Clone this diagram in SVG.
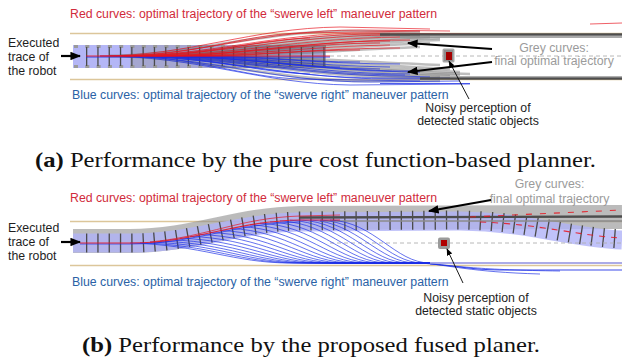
<svg xmlns="http://www.w3.org/2000/svg" width="622" height="364" viewBox="0 0 622 364">
  <style>
    .lbl { font-family: "Liberation Sans", Arial, sans-serif; font-size: 12.3px; }
    .red-t { fill: #d12b3b; }
    .blue-t { fill: #2a62a6; }
    .grey-t { fill: #9b9b9b; }
    .dark-t { fill: #1e1e1e; }
    .cap { font-family: "Liberation Serif", "Times New Roman", serif; font-size: 22px; fill: #111; }
    .road { stroke: #dcc69a; stroke-width: 1.6; fill: none; }
    .fan-grey { stroke: #6f6f6f; stroke-opacity: 0.45; stroke-width: 2.6; fill: none; }
    .fan-red { stroke: #e8141e; stroke-opacity: 0.85; stroke-width: 0.8; fill: none; }
    .fan-blue { stroke: #1a2ee6; stroke-opacity: 0.85; stroke-width: 0.8; fill: none; }
    .ticks { stroke: #4a4a4a; stroke-width: 19; stroke-dasharray: 1.3 10; fill: none; }
    .final { stroke: #4d4d4d; stroke-width: 2.4; fill: none; }
    .final-lt { stroke: #8c8c8c; stroke-width: 1.4; fill: none; }
    .center { stroke: #b0b0b0; stroke-width: 0.9; stroke-dasharray: 4 3; fill: none; }
    .arrow-thick { stroke: #000; stroke-width: 2.2; fill: none; marker-end: url(#head); }
    .arrow-thin { stroke: #000; stroke-width: 0.9; fill: none; marker-end: url(#head-s); }
  </style>
  <defs>
    <marker id="head" viewBox="0 0 10 8" refX="9" refY="4" markerUnits="userSpaceOnUse" markerWidth="11" markerHeight="8.5" orient="auto">
      <path d="M0 0 L10 4 L0 8 z" fill="#000"/>
    </marker>
    <marker id="head-s" viewBox="0 0 10 8" refX="9" refY="4" markerUnits="userSpaceOnUse" markerWidth="7" markerHeight="5.6" orient="auto">
      <path d="M0 0 L10 4 L0 8 z" fill="#000"/>
    </marker>
  </defs>

  <rect width="622" height="364" fill="#fff"/>

  <!-- ===================== Panel (a) ===================== -->
  <g id="panel-a">
    <path class="road" d="M70 33.5 H622 M70 79.5 H622"/>

    <!-- robot footprint band -->
    <rect x="73" y="45" width="253" height="23" fill="#b4b6f6"/>
    <rect x="130" y="45" width="196" height="23" fill="#8a8a8a" fill-opacity="0.35"/>
    <path d="M73 46.5 H326 M73 66.5 H326" stroke="#9a9a9a" stroke-width="3" stroke-dasharray="4 7.3" stroke-dashoffset="-1" fill="none"/>

    <!-- grey candidate trajectories -->
    <g class="fan-grey">
      <path d="M110 56 C190 55 260 31 350 31 L420 32"/>
      <path d="M120 56 C210 56 290 34 390 34"/>
      <path d="M130 56 C220 56 300 35 410 35"/>
      <path d="M140 56 C230 56 310 37 420 36"/>
      <path d="M150 56 C240 55 320 39 430 37"/>
      <path d="M160 56 C250 55 330 41 440 38"/>
      <path d="M170 56 C250 54 330 44 440 40"/>
      <path d="M180 56 C260 55 340 47 430 43"/>
      <path d="M190 56 C270 56 340 50 420 47"/>
      <path d="M110 56 C200 57 280 81 370 81 L440 81"/>
      <path d="M120 56 C220 56 310 78 420 78"/>
      <path d="M130 56 C230 56 320 77 440 77"/>
      <path d="M140 56 C240 56 330 75 450 76"/>
      <path d="M150 56 C250 57 340 73 460 75"/>
      <path d="M160 56 C260 57 350 71 470 74"/>
      <path d="M170 56 C260 58 350 68 460 72"/>
      <path d="M180 56 C270 57 360 65 450 69"/>
      <path d="M190 56 C280 56 360 62 440 65"/>
    </g>

    <path class="ticks" d="M86 56.5 H327"/>

    <!-- swerve-right candidates -->
    <g class="fan-blue">
      <path d="M86 57 H330" stroke-width="1.1"/>
      <path d="M100 56 C200 56 260 84 350 85 L470 84"/>
      <path d="M110 56 C210 56 270 82 370 82 L460 81"/>
      <path d="M120 56 C220 56 290 79 390 79 L440 79"/>
      <path d="M125 56 C220 57 280 78 380 78 L450 78"/>
      <path d="M130 56 C230 57 300 76 400 76 L430 77"/>
      <path d="M135 56 C230 56 300 75 405 75"/>
      <path d="M140 56 C240 56 310 74 410 74"/>
      <path d="M150 56 C250 56 320 72 420 72"/>
      <path d="M155 56 C245 56 315 71 410 71"/>
      <path d="M160 56 C240 56 300 69 380 69"/>
      <path d="M170 56 C250 56 310 66 390 67"/>
      <path d="M180 56 C260 56 320 64 400 64"/>
      <path d="M120 56 C200 57 240 77 300 79 L420 81"/>
      <path d="M140 56 C210 56 250 72 310 74"/>
      <path d="M200 56 C260 56 300 62 360 62"/>
      <path d="M190 57 C250 57 290 66 340 67"/>
    </g>

    <!-- swerve-left candidates -->
    <g class="fan-red">
      <path d="M86 56 H330" stroke-width="1.2"/>
      <path d="M100 56 C190 56 250 28 340 27 L430 29"/>
      <path d="M110 56 C200 56 260 30 360 30 L450 31"/>
      <path d="M120 56 C210 56 270 33 370 33 L470 34"/>
      <path d="M125 56 C215 56 275 34 380 34"/>
      <path d="M130 56 C220 55 290 36 390 35"/>
      <path d="M140 56 C230 56 300 38 400 37"/>
      <path d="M150 56 C240 56 310 40 410 40"/>
      <path d="M155 56 C240 56 300 41 390 41"/>
      <path d="M160 56 C240 56 300 43 380 43"/>
      <path d="M170 56 C250 56 310 46 390 45"/>
      <path d="M180 56 C260 56 320 48 400 48"/>
      <path d="M120 56 C200 55 240 35 300 33 L420 31"/>
      <path d="M140 56 C210 56 250 40 310 38"/>
      <path d="M200 56 C260 56 300 50 360 50"/>
      <path d="M590 24 L622 23"/>
    </g>

    <!-- final optimal trajectory -->
    <path class="final" d="M380 34.5 H622 M420 78.5 H622"/>
    <path class="final-lt" d="M400 37 H622"/>
    <path d="M440 76.5 H622" stroke="#b0b0b0" stroke-width="1" fill="none"/>
    <path d="M380 83.5 L470 83.5" stroke="#3a4ae8" stroke-width="0.9" fill="none"/>

    <path class="center" d="M330 56 H622"/>

    <g id="obstacle-a">
      <rect x="442.5" y="48.5" width="12" height="14" rx="1.5" fill="#a8a8a8"/>
      <rect x="444" y="50" width="9" height="11" fill="#8e8e8e"/>
      <rect x="446" y="52" width="6" height="8" fill="#a40000"/>
    </g>

    <g id="labels-a" class="lbl">
      <text class="red-t" x="70" y="18">Red curves: optimal trajectory of the “swerve left” maneuver pattern</text>
      <text class="blue-t" x="72" y="99">Blue curves: optimal trajectory of the “swerve right” maneuver pattern</text>
      <text class="grey-t" x="554" y="52" text-anchor="middle">Grey curves:</text>
      <text class="grey-t" x="554" y="65" text-anchor="middle">final optimal trajectory</text>
      <text class="dark-t" x="478" y="112" text-anchor="middle">Noisy perception of</text>
      <text class="dark-t" x="478" y="125" text-anchor="middle">detected static objects</text>
      <text class="dark-t" x="8" y="47">Executed</text>
      <text class="dark-t" x="8" y="61">trace of</text>
      <text class="dark-t" x="8" y="75">the robot</text>
    </g>

    <g id="connectors-a">
      <path class="arrow-thick" d="M61 56 H80"/>
      <path class="arrow-thick" d="M492 49 L408 43"/>
      <path class="arrow-thick" d="M492 62 L408 72"/>
      <path class="arrow-thin" d="M469 99 L449 61"/>
    </g>

    <text class="cap" x="35" y="167" textLength="561" lengthAdjust="spacingAndGlyphs"><tspan font-weight="bold">(a)</tspan> Performance by the pure cost function-based planner.</text>
  </g>

  <!-- ===================== Panel (b) ===================== -->
  <g id="panel-b">
    <path class="road" d="M70 221.5 H622 M70 265.5 H622"/>

    <!-- footprints: final (grey) and executed (blue) -->
    <path d="M73 241 L130 241 C195 241 235 219 300 218 L622 217" stroke="#8e8e8e" stroke-opacity="0.6" stroke-width="24" fill="none"/>
    <path d="M73 243 L130 243 C195 243 235 223 300 222 L460 221 C530 222 565 237 622 240" stroke="#b0b3f7" stroke-opacity="0.8" stroke-width="19" fill="none"/>

    <path class="ticks" d="M86 243 L130 243 C195 243 235 222 300 221 L460 220 C530 221 565 236 622 239"/>

    <!-- final optimal trajectory core -->
    <path class="final" d="M300 217.5 L622 216.5"/>
    <path class="final-lt" d="M320 221 L622 221" stroke="#666"/>

    <path class="center" d="M330 243 H622"/>

    <!-- swerve-right candidates -->
    <g class="fan-blue">
      <path d="M130 243 C202 245 234 263 290 263 L430 263"/>
      <path d="M140 242.8 C210.7 244.8 242 263 297 263 L430 263"/>
      <path d="M150 242.1 C219.3 244.1 250 263 304 263 L430 263"/>
      <path d="M160 241.1 C228 243.1 258 263 311 263 L430 263"/>
      <path d="M170 239.8 C236.6 241.8 266 263 318 263 L430 263"/>
      <path d="M180 238.2 C245.3 240.2 274 263 325 263 L430 263"/>
      <path d="M190 236.4 C254 238.4 282 263 332 263 L430 263"/>
      <path d="M200 234.5 C262.6 236.5 290 263 339 263 L430 263"/>
      <path d="M210 232.5 C271.2 234.5 298 263 346 263 L430 263"/>
      <path d="M220 230.5 C280 232.5 306 263 353 263 L430 263"/>
      <path d="M230 228.5 C288.5 230.5 314 263 360 263 L430 263"/>
      <path d="M240 226.6 C297 228.6 322 263 367 263 L430 263"/>
      <path d="M250 224.8 C305.8 226.8 330.6 263 374 263 L430 263"/>
      <path d="M260 223.2 C314.5 225.2 338.6 263 381 263 L430 263"/>
      <path d="M270 221.9 C323 223.9 346.7 263 388 263 L430 263"/>
      <path d="M280 220.9 C331.8 222.9 354.8 263 395 263 L430 263"/>
      <path d="M290 220.2 C340.4 222.2 362.8 263 402 263 L430 263"/>
      <path d="M300 220 C349 222 370.9 263 409 263 L430 263"/>
      <path d="M310 220 C357.7 222 379 263 416 263 L430 263"/>
      <path d="M320 220 C366.4 222 387 263 423 263 L430 263"/>
      <path d="M330 220 C375 222 395 263 430 263"/>
      <path d="M80 244 L130 244 C195 244 235 223 300 222"/>
      <path d="M430 264 C460 266 470 270 500 270 H622" stroke-width="1.1"/>
      <path d="M420 263 C450 265 470 272 540 274"/>
      <path d="M425 263 C455 266 480 270 560 271"/>
    </g>
    <path d="M430 263 H622" stroke="#8f8fe0" stroke-width="1.6" fill="none"/>

    <!-- swerve-left candidates -->
    <g class="fan-red">
      <path d="M80 243 L130 243 C195 243 235 221 300 220 L340 220" stroke-width="1.1"/>
      <path d="M150 242 C210 236 240 218 300 216 L340 215"/>
      <path d="M470 217 L622 210" stroke-dasharray="6 8" stroke-width="1.1"/>
      <path d="M480 222 C540 224 580 236 622 238" stroke-dasharray="6 6" stroke-width="1.1"/>
    </g>

    <g id="obstacle-b">
      <rect x="438" y="237.5" width="12" height="11.5" rx="2" fill="#9a9a9a"/>
      <rect x="441" y="240" width="6" height="6" fill="#b00000"/>
    </g>

    <g id="labels-b" class="lbl">
      <text class="red-t" x="70" y="202">Red curves: optimal trajectory of the “swerve left” maneuver pattern</text>
      <text class="blue-t" x="72" y="286">Blue curves: optimal trajectory of the “swerve right” maneuver pattern</text>
      <text class="grey-t" x="549.5" y="188" text-anchor="middle">Grey curves:</text>
      <text class="grey-t" x="549.5" y="203" text-anchor="middle">final optimal trajectory</text>
      <text class="dark-t" x="476" y="302" text-anchor="middle">Noisy perception of</text>
      <text class="dark-t" x="476" y="315" text-anchor="middle">detected static objects</text>
      <text class="dark-t" x="8" y="232">Executed</text>
      <text class="dark-t" x="8" y="246">trace of</text>
      <text class="dark-t" x="8" y="260">the robot</text>
    </g>

    <g id="connectors-b">
      <path class="arrow-thick" d="M61 242 H80"/>
      <path class="arrow-thick" d="M491 200 L429 211"/>
      <path class="arrow-thin" d="M463 283 L447 249"/>
    </g>

    <text class="cap" x="82" y="352" textLength="458" lengthAdjust="spacingAndGlyphs"><tspan font-weight="bold">(b)</tspan> Performance by the proposed fused planer.</text>
  </g>
</svg>
